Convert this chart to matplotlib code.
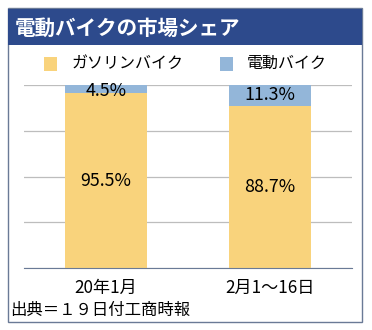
import matplotlib
matplotlib.use("Agg")
import matplotlib.pyplot as plt
from matplotlib.patches import Rectangle

plt.rcParams['font.family'] = ['Noto Sans CJK JP', 'DejaVu Sans']

title = "電動バイクの市場シェア"
categories = ["20年1月", "2月1〜16日"]
series_names = ["ガソリンバイク", "電動バイク"]
gasoline = [95.5, 88.7]
electric = [4.5, 11.3]
source = "出典＝１９日付工商時報"

c_gas = "#F9D37C"
c_ele = "#93B6D9"

W, H = 372, 330
fig = plt.figure(figsize=(W / 100, H / 100), dpi=100)
fig.patch.set_facecolor("white")

def fx(x): return x / W
def fy(y): return 1 - y / H

# outer border
fig.add_artist(Rectangle((fx(8), fy(322)), fx(354), 314 / H, transform=fig.transFigure,
                         facecolor="none", edgecolor="#6A7A96", lw=1.0))
# title band
fig.add_artist(Rectangle((fx(8), fy(45)), fx(354), 36 / H, transform=fig.transFigure,
                         facecolor="#2D4A8C", edgecolor="none"))
fig.text(fx(15), fy(28), title, color="white", fontsize=14.8, fontweight="bold", va="center", ha="left")

ax = fig.add_axes([fx(24), fy(268), fx(328), 183 / H])
x = range(len(categories))
ax.bar(x, gasoline, width=0.5, color=c_gas, zorder=2)
ax.bar(x, electric, width=0.5, bottom=gasoline, color=c_ele, zorder=2)
ax.set_xlim(-0.5, 1.5)
ax.set_ylim(0, 100)
ax.set_yticks([0, 25, 50, 75, 100])
ax.yaxis.grid(True, color="#BDBDBD", lw=0.9, zorder=0)
ax.tick_params(axis="y", left=False, labelleft=False)
ax.tick_params(axis="x", bottom=False, labelsize=12.3, pad=4)
ax.set_xticks(list(x))
ax.set_xticklabels(categories)
for s in ["top", "left", "right"]:
    ax.spines[s].set_visible(False)
ax.spines["bottom"].set_color("#6A7A96")

for i in x:
    ax.text(i, gasoline[i] / 2, f"{gasoline[i]}%", ha="center", va="center", fontsize=12.8)
    ax.text(i, gasoline[i] + electric[i] / 2 - (1.2 if electric[i] < 6 else 0),
            f"{electric[i]}%", ha="center", va="center", fontsize=12.8)

# legend
fig.add_artist(Rectangle((fx(44), fy(71)), fx(13), 14 / H, transform=fig.transFigure,
                         facecolor=c_gas, edgecolor="none"))
fig.text(fx(72), fy(63), series_names[0], fontsize=11.5, va="center", ha="left")
fig.add_artist(Rectangle((fx(220), fy(71)), fx(13), 14 / H, transform=fig.transFigure,
                         facecolor=c_ele, edgecolor="none"))
fig.text(fx(247), fy(63), series_names[1], fontsize=11.5, va="center", ha="left")

fig.text(fx(10), fy(310), source, fontsize=11.8, va="center", ha="left")

fig.savefig("out.png", dpi=100)
